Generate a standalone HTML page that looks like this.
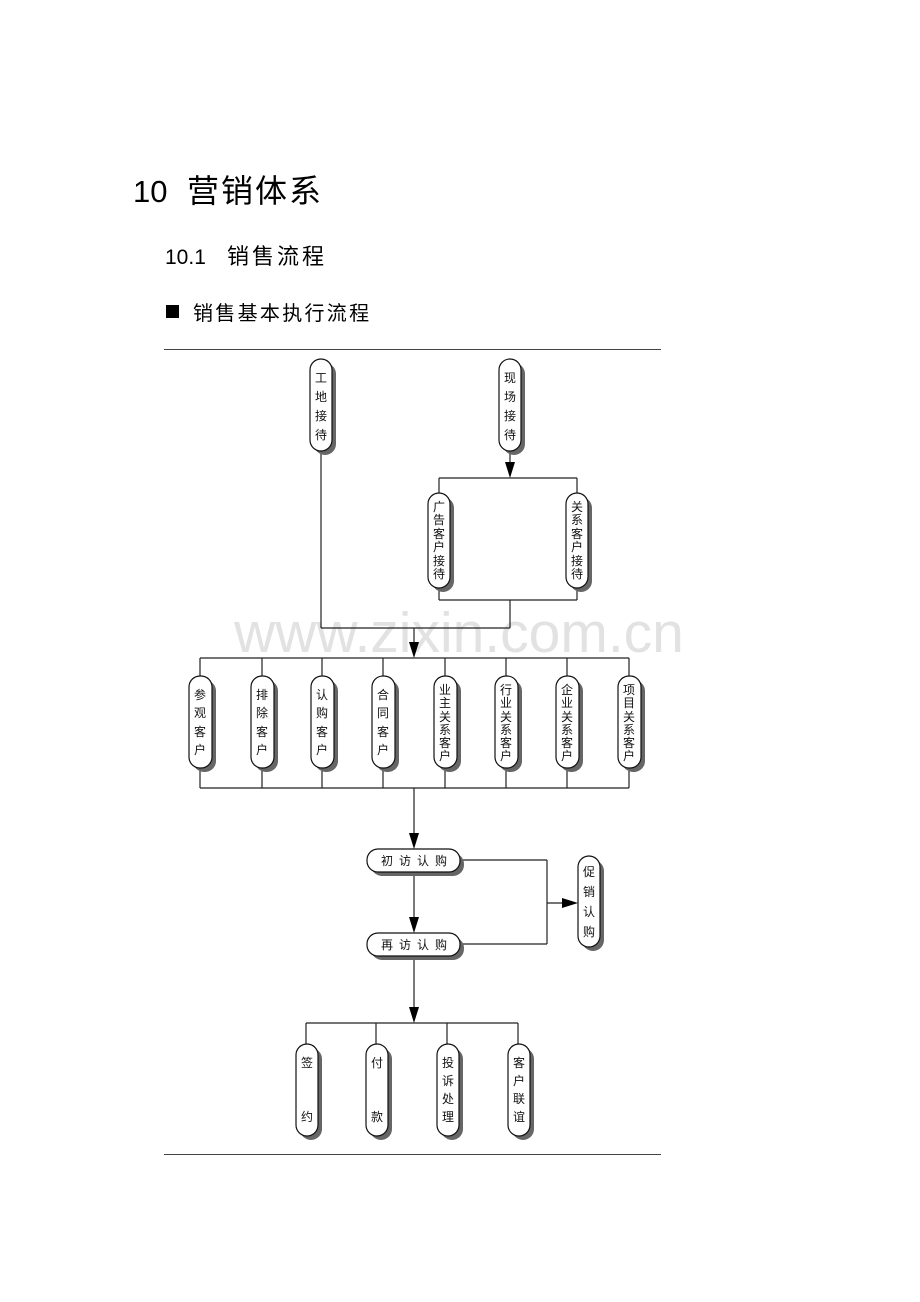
<!DOCTYPE html>
<html><head><meta charset="utf-8"><style>
html,body{margin:0;padding:0;background:#fff;width:920px;height:1302px;overflow:hidden}
svg{display:block}
.t{font-family:"Liberation Sans","Noto Sans CJK SC",sans-serif;fill:#000}
.n{font-family:"Liberation Sans","Noto Sans CJK SC",sans-serif;font-size:12px;fill:#111;text-anchor:middle;dominant-baseline:central}
</style></head><body>
<svg width="920" height="1302" viewBox="0 0 920 1302" xmlns="http://www.w3.org/2000/svg">
<text class="t" x="133" y="202" font-size="31">10</text>
<text class="t" x="187" y="202" font-size="32" letter-spacing="2">营销体系</text>
<text class="t" x="165" y="264" font-size="21">10.1</text>
<text class="t" x="227" y="264" font-size="22" letter-spacing="3">销售流程</text>
<rect x="166" y="305" width="13" height="13" fill="#000"/>
<text class="t" x="193" y="320" font-size="20" letter-spacing="2.3">销售基本执行流程</text>
<line x1="164" y1="349.5" x2="661" y2="349.5" stroke="#444" stroke-width="1"/>
<line x1="164" y1="1154.5" x2="661" y2="1154.5" stroke="#444" stroke-width="1"/>
<text x="459" y="652" font-family="Liberation Sans,sans-serif" font-size="57" fill="#e2e2e2" text-anchor="middle">www.zixin.com.cn</text>
<g stroke="#222" stroke-width="1.2" fill="none">
<line x1="321" y1="451" x2="321" y2="628"/>
<line x1="321" y1="628" x2="510" y2="628"/>
<line x1="510" y1="600" x2="510" y2="628"/>
<line x1="510" y1="451" x2="510" y2="470"/>
<line x1="439" y1="478" x2="577" y2="478"/>
<line x1="439" y1="478" x2="439" y2="493"/><line x1="577" y1="478" x2="577" y2="493"/>
<line x1="439" y1="588" x2="439" y2="600"/><line x1="577" y1="588" x2="577" y2="600"/>
<line x1="439" y1="600" x2="577" y2="600"/>
<line x1="414" y1="628" x2="414" y2="650"/>
<line x1="200" y1="658" x2="629" y2="658"/>
<line x1="200" y1="788" x2="629" y2="788"/>
<line x1="200" y1="658" x2="200" y2="788"/><line x1="262" y1="658" x2="262" y2="788"/>
<line x1="322" y1="658" x2="322" y2="788"/><line x1="383" y1="658" x2="383" y2="788"/>
<line x1="445" y1="658" x2="445" y2="788"/><line x1="506" y1="658" x2="506" y2="788"/>
<line x1="567" y1="658" x2="567" y2="788"/><line x1="629" y1="658" x2="629" y2="788"/>
<line x1="414" y1="788" x2="414" y2="840"/>
<line x1="414" y1="872" x2="414" y2="925"/>
<line x1="414" y1="956" x2="414" y2="1015"/>
<line x1="460" y1="860" x2="547" y2="860"/>
<line x1="460" y1="944" x2="547" y2="944"/>
<line x1="547" y1="860" x2="547" y2="944"/>
<line x1="547" y1="903" x2="570" y2="903"/>
<line x1="306" y1="1023" x2="518" y2="1023"/>
<line x1="306" y1="1023" x2="306" y2="1044"/><line x1="376" y1="1023" x2="376" y2="1044"/>
<line x1="447" y1="1023" x2="447" y2="1044"/><line x1="518" y1="1023" x2="518" y2="1044"/>
</g>
<g fill="#000">
<polygon points="505,462 515,462 510,478"/>
<polygon points="409,642 419,642 414,658"/>
<polygon points="409,833 419,833 414,849"/>
<polygon points="409,917 419,917 414,933"/>
<polygon points="409,1007 419,1007 414,1023"/>
<polygon points="562,898 578,903 562,908"/>
</g>
<g fill="#666">
<rect x="314" y="363" width="22" height="92" rx="11"/>
<rect x="503" y="363" width="22" height="92" rx="11"/>
<rect x="432" y="497" width="22" height="95" rx="11"/>
<rect x="570" y="497" width="22" height="95" rx="11"/>
<rect x="193" y="680" width="23" height="92" rx="11"/><rect x="255" y="680" width="23" height="92" rx="11"/>
<rect x="315" y="680" width="23" height="92" rx="11"/><rect x="376" y="680" width="23" height="92" rx="11"/>
<rect x="438" y="680" width="23" height="92" rx="11"/><rect x="499" y="680" width="23" height="92" rx="11"/>
<rect x="560" y="680" width="23" height="92" rx="11"/><rect x="622" y="680" width="23" height="92" rx="11"/>
<rect x="371" y="853" width="93" height="23" rx="11"/>
<rect x="371" y="937" width="93" height="23" rx="11"/>
<rect x="582" y="860" width="22" height="91" rx="11"/>
<rect x="300" y="1048" width="22" height="92" rx="11"/><rect x="370" y="1048" width="22" height="92" rx="11"/>
<rect x="441" y="1048" width="22" height="92" rx="11"/><rect x="512" y="1048" width="22" height="92" rx="11"/>
</g>
<g fill="#fff" stroke="#111" stroke-width="1.2">
<rect x="310" y="359" width="22" height="92" rx="11"/>
<rect x="499" y="359" width="22" height="92" rx="11"/>
<rect x="428" y="493" width="22" height="95" rx="11"/>
<rect x="566" y="493" width="22" height="95" rx="11"/>
<rect x="189" y="676" width="23" height="92" rx="11"/><rect x="251" y="676" width="23" height="92" rx="11"/>
<rect x="311" y="676" width="23" height="92" rx="11"/><rect x="372" y="676" width="23" height="92" rx="11"/>
<rect x="434" y="676" width="23" height="92" rx="11"/><rect x="495" y="676" width="23" height="92" rx="11"/>
<rect x="556" y="676" width="23" height="92" rx="11"/><rect x="618" y="676" width="23" height="92" rx="11"/>
<rect x="367" y="849" width="93" height="23" rx="11"/>
<rect x="367" y="933" width="93" height="23" rx="11"/>
<rect x="578" y="856" width="22" height="91" rx="11"/>
<rect x="296" y="1044" width="22" height="92" rx="11"/><rect x="366" y="1044" width="22" height="92" rx="11"/>
<rect x="437" y="1044" width="22" height="92" rx="11"/><rect x="508" y="1044" width="22" height="92" rx="11"/>
</g>
<g class="n">
<text x="321" y="378">工</text><text x="321" y="397">地</text><text x="321" y="416">接</text><text x="321" y="435">待</text>
<text x="510" y="378">现</text><text x="510" y="397">场</text><text x="510" y="416">接</text><text x="510" y="435">待</text>
<text x="439" y="507">广</text><text x="439" y="520">告</text><text x="439" y="534">客</text><text x="439" y="547">户</text><text x="439" y="561">接</text><text x="439" y="574">待</text>
<text x="577" y="507">关</text><text x="577" y="520">系</text><text x="577" y="534">客</text><text x="577" y="547">户</text><text x="577" y="561">接</text><text x="577" y="574">待</text>
<text x="200" y="695">参</text><text x="200" y="713">观</text><text x="200" y="732">客</text><text x="200" y="750">户</text>
<text x="262" y="695">排</text><text x="262" y="713">除</text><text x="262" y="732">客</text><text x="262" y="750">户</text>
<text x="322" y="695">认</text><text x="322" y="713">购</text><text x="322" y="732">客</text><text x="322" y="750">户</text>
<text x="383" y="695">合</text><text x="383" y="713">同</text><text x="383" y="732">客</text><text x="383" y="750">户</text>
<text x="445" y="690">业</text><text x="445" y="703">主</text><text x="445" y="717">关</text><text x="445" y="730">系</text><text x="445" y="743">客</text><text x="445" y="756">户</text>
<text x="506" y="690">行</text><text x="506" y="703">业</text><text x="506" y="717">关</text><text x="506" y="730">系</text><text x="506" y="743">客</text><text x="506" y="756">户</text>
<text x="567" y="690">企</text><text x="567" y="703">业</text><text x="567" y="717">关</text><text x="567" y="730">系</text><text x="567" y="743">客</text><text x="567" y="756">户</text>
<text x="629" y="690">项</text><text x="629" y="703">目</text><text x="629" y="717">关</text><text x="629" y="730">系</text><text x="629" y="743">客</text><text x="629" y="756">户</text>
<text x="387" y="861">初</text><text x="405" y="861">访</text><text x="423" y="861">认</text><text x="441" y="861">购</text>
<text x="387" y="945">再</text><text x="405" y="945">访</text><text x="423" y="945">认</text><text x="441" y="945">购</text>
<text x="589" y="872">促</text><text x="589" y="892">销</text><text x="589" y="912">认</text><text x="589" y="932">购</text>
<text x="307" y="1063">签</text><text x="307" y="1117">约</text>
<text x="377" y="1063">付</text><text x="377" y="1117">款</text>
<text x="448" y="1063">投</text><text x="448" y="1081">诉</text><text x="448" y="1099">处</text><text x="448" y="1117">理</text>
<text x="519" y="1063">客</text><text x="519" y="1081">户</text><text x="519" y="1099">联</text><text x="519" y="1117">谊</text>
</g>
</svg>
</body></html>
